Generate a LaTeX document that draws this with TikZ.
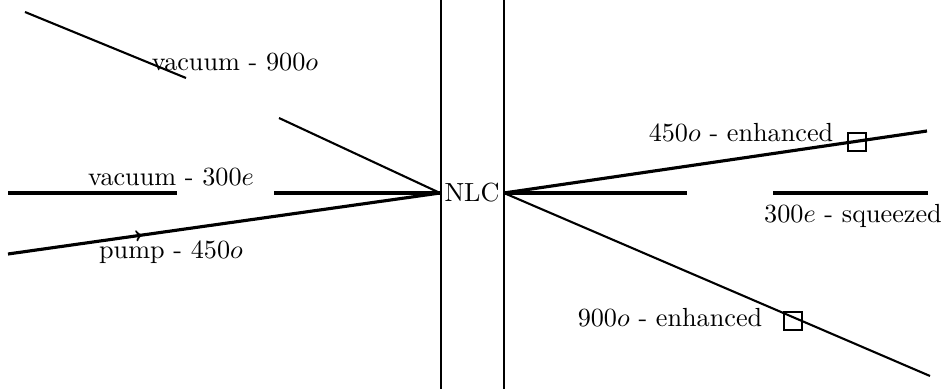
\documentclass[tikz,border=0pt]{standalone}
\usetikzlibrary{decorations.markings}
\tikzset{
  beam/.style={line width=0.8pt},
  strong/.style={line width=1.2pt},
  detector/.style={draw,line width=0.8pt,minimum size=6.9pt,inner sep=0pt},
  midarrow/.style={postaction={decorate},decoration={markings,mark=at position #1 with {\arrow[scale=0.7]{>}}}}
}
\begin{document}
\begin{tikzpicture}[x=0.3816pt,y=-0.3816pt]
      \useasboundingbox (0,0) rectangle (946,389);
      \draw
        (472,193) node[minimum width=24pt,inner sep=0pt] (nlc){NLC}
        (235,62) node (v900){vacuum - 900$o$}
        (171,177) node (v300){vacuum - 300$e$}
        (171,252) node (p450){pump - 450$o$}
        (741,133) node (e450){450$o$ - enhanced}
        (853,216) node (s300){300$e$ - squeezed}
        (670,318) node (e900){900$o$ - enhanced};
      \node[detector] (d450) at (857,142) {};
      \node[detector] (d900) at (793,321) {};
      % crystal faces
      \coordinate (lt) at (441,0);
      \coordinate (lb) at (441,389);
      \coordinate (rt) at (504,0);
      \coordinate (rb) at (504,389);
      % free ends of the beams
      \coordinate (a0) at (25,12);
      \coordinate (a1) at (186,78);
      \coordinate (a2) at (279,118);
      \coordinate (b0) at (8,193);
      \coordinate (b1) at (177,193);
      \coordinate (b2) at (274,193);
      \coordinate (c0) at (8,254);
      \coordinate (f0) at (927,131);
      \coordinate (g1) at (687,193);
      \coordinate (g2) at (773,193);
      \coordinate (g3) at (928,193);
      \coordinate (h0) at (930,376);
      \begin{scope}[beam]
        \draw (lt) to (lb);
        \draw (rt) to (rb);
        \draw (a0) to (a1);
        \draw (a2) to (nlc.west);
        \draw (nlc.east) to (h0);
      \end{scope}
      \begin{scope}[strong]
        \draw (b0) to (b1);
        \draw (b2) to (nlc.west);
        \draw[midarrow=0.31] (c0) to (nlc.west);
        \draw (nlc.east) to (f0);
        \draw (nlc.east) to (g1);
        \draw (g2) to (g3);
      \end{scope}
    \end{tikzpicture}
\end{document}
